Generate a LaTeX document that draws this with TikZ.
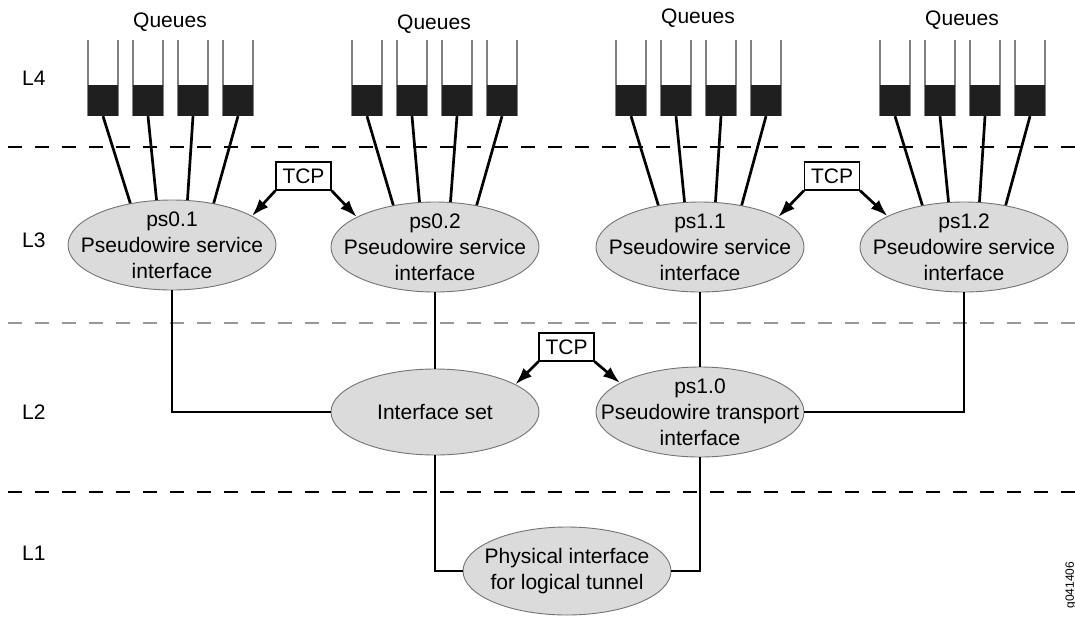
\documentclass[tikz,border=0pt]{standalone}
\usepackage{fontspec}
\setmainfont{Liberation Sans}
\usetikzlibrary{arrows.meta,shapes.geometric}
\begin{document}
\begin{tikzpicture}[x=1pt,y=-1pt,
  every node/.style={font=\fontsize{21}{26}\selectfont, inner sep=0pt},
  layerlabel/.style={anchor=west},
  sepline/.style={line width=1.3pt, dash pattern=on 14pt off 13pt},
  iface/.style={ellipse, draw=black!55, line width=0.9pt, fill=black!14,
    minimum width=208pt, minimum height=90pt},
  ifacetext/.style={align=center},
  tcpbox/.style={draw, line width=1.2pt, minimum width=55pt, minimum height=28pt},
  link/.style={line width=2.7pt},
  tcparrow/.style={line width=2.7pt, -{Latex[length=17pt,width=12pt]}},
  qwall/.style={draw=black!50, line width=1.4pt},
  qblock/.style={fill=black!88, minimum width=30pt, minimum height=31pt}
]
\useasboundingbox (0,0) rectangle (1075,616);

% layer separators
\draw[sepline] (8,147) -- (1075,147);
\draw[sepline, draw=black!40] (8,323) -- (1075,323);
\draw[sepline] (8,492) -- (1075,492);

% layer names
\node[layerlabel] (l4) at (22,78) {L4};
\node[layerlabel] (l3) at (22,240) {L3};
\node[layerlabel] (l2) at (22,412) {L2};
\node[layerlabel] (l1) at (22,553) {L1};

% interfaces: fixed-size ellipses with their captions on top
\node[iface] (ps01) at (172,245) {};
\node[ifacetext] (ps01t) at (ps01) {ps0.1\\Pseudowire service\\interface};
\node[iface] (ps02) at (435,247) {};
\node[ifacetext] (ps02t) at (ps02) {ps0.2\\Pseudowire service\\interface};
\node[iface] (ps11) at (700,247) {};
\node[ifacetext] (ps11t) at (ps11) {ps1.1\\Pseudowire service\\interface};
\node[iface] (ps12) at (964,247) {};
\node[ifacetext] (ps12t) at (ps12) {ps1.2\\Pseudowire service\\interface};
\node[iface, minimum height=86pt] (ifset) at (435,412) {};
\node[ifacetext] (ifsett) at (ifset) {Interface set};
\node[iface] (ps10) at (700,412) {};
\node[ifacetext] (ps10t) at (ps10) {ps1.0\\Pseudowire transport\\interface};
\node[iface, minimum height=88pt] (phys) at (567,571) {};
\node[ifacetext] (physt) at (phys) {Physical interface\\for logical tunnel};

% queues and their links to the service interfaces
\foreach \g/\gx/\ly/\e in {1/88/22/ps01, 2/352/24/ps02, 3/616/18/ps11, 4/880/20/ps12} {
  \node (qlabel\g) at (\gx+82,\ly) {Queues};
  \foreach \k/\ang in {0/135, 1/109, 2/71, 3/45} {
    \draw[qwall] (\gx+45*\k,40) -- (\gx+45*\k,116);
    \draw[qwall] (\gx+45*\k+30,40) -- (\gx+45*\k+30,116);
    \node[qblock] (q\g\k) at (\gx+45*\k+15,100.5) {};
    \draw[link] (q\g\k.south) -- (\e.\ang);
  }
}

% service interfaces to transport level
\draw[link] (ps01.south) |- (ifset.west);
\draw[link] (ps02.south) -- (ifset.north);
\draw[link] (ps11.south) -- (ps10.north);
\draw[link] (ps12.south) |- (ps10.east);
\draw[link] (ifset.south) |- (phys.west);
\draw[link] (ps10.south) |- (phys.east);

% TCP relations
\node[tcpbox] (tcp1) at (303.5,176) {TCP};
\node[tcpbox] (tcp2) at (832,176) {TCP};
\node[tcpbox] (tcp3) at (566.5,347) {TCP};
\draw[tcparrow] (tcp1.south west) -- (ps01.20);
\draw[tcparrow] (tcp1.south east) -- (ps02.159);
\draw[tcparrow] (tcp2.south west) -- (ps11.21);
\draw[tcparrow] (tcp2.south east) -- (ps12.158);
\draw[tcparrow] (tcp3.south west) -- (ifset.19);
\draw[tcparrow] (tcp3.south east) -- (ps10.160);

% figure number
\node[rotate=90, font=\fontsize{12}{14}\selectfont] (fignum) at (1071,585) {g041406};
\end{tikzpicture}
\end{document}
